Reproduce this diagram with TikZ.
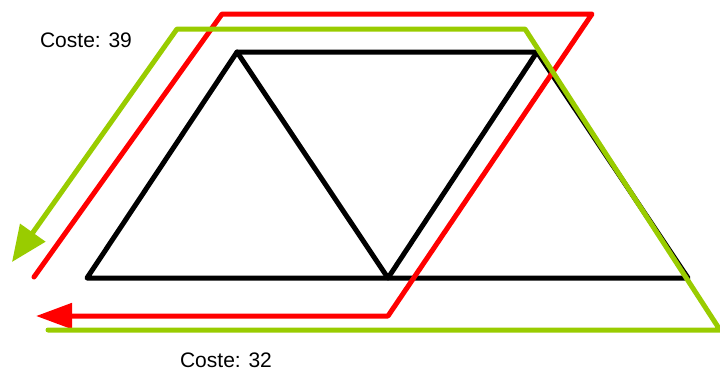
\documentclass[tikz,border=0pt]{standalone}
\usepackage{fontspec}
\setmainfont{Liberation Sans}
\usetikzlibrary{arrows.meta}
\definecolor{verde}{RGB}{153,204,0}
\begin{document}
\begin{tikzpicture}[x=1pt, y=-1pt, line join=round, line cap=round,
	trazo/.style={line width=5pt},
	coste/.style={font=\fontsize{21}{25}\selectfont, inner sep=0pt}]
	\useasboundingbox (0,0) rectangle (720,373);
	% vertices del trapecio
	\coordinate (A) at (87,278);
	\coordinate (B) at (388,278);
	\coordinate (C) at (688,278);
	\coordinate (D) at (237,52);
	\coordinate (E) at (537,52);
	\draw[trazo] (A)--(D)--(E)--(C)--cycle;
	\draw[trazo] (D)--(B)--(E);
	% recorrido rojo
	\draw[trazo, red, -{Triangle[length=36pt, width=25pt]}]
		(34,277)--(222,14)--(592,14)--(388,316)--(36,316);
	% recorrido verde
	\draw[trazo, verde, -{Triangle[length=36pt, width=30pt]}]
		(48,330)--(720,330)--(525,29)--(177,29)--(12,262);
	\node[coste] (c39) at (86,40) {Coste: 39};
	\node[coste] (c32) at (226,360) {Coste: 32};
\end{tikzpicture}
\end{document}
